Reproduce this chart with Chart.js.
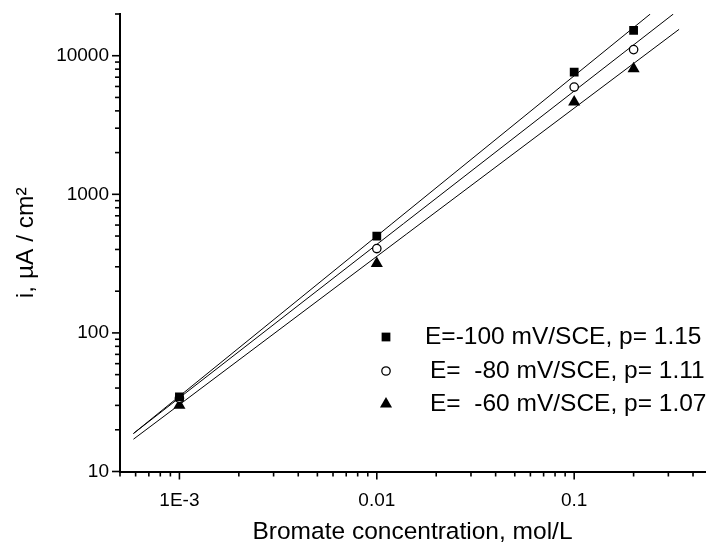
<!DOCTYPE html>
<html><head><meta charset="utf-8">
<script src="https://cdn.jsdelivr.net/npm/chart.js@4/dist/chart.umd.min.js"></script>
<style>html,body{margin:0;padding:0;background:#fff;overflow:hidden;width:707px;height:544px}</style>
</head><body>
<canvas id="c" width="712" height="544"></canvas>
<script>
// ---- data ----
const concentrations = [0.001, 0.01, 0.1, 0.2];
const currentE100 = [34.6, 499, 7620, 15240];
const currentE80 = [33.7, 406, 5940, 11070];
const currentE60 = [30.1, 317, 4630, 8070];
const fitXE100 = [0.000585, 0.243];
const fitYE100 = [18.8, 20000];
const fitXE80 = [0.000585, 0.318];
const fitYE80 = [18.8, 20000];
const fitXE60 = [0.000585, 0.34];
const fitYE60 = [17.1, 15500];
const seriesLabels = ['E=-100 mV/SCE, p= 1.15', 'E=  -80 mV/SCE, p= 1.11', 'E=  -60 mV/SCE, p= 1.07'];
const xTickValues = [0.001, 0.01, 0.1];
const xTickLabels = ['1E-3', '0.01', '0.1'];
const yTickValues = [10, 100, 1000, 10000];
const yTickLabels = ['10', '100', '1000', '10000'];
const xTitle = 'Bromate concentration, mol/L';
const yTitle = 'i, \u00B5A / cm\u00B2';

// ---- helpers ----
const pts = (xs, ys) => xs.map((x, i) => ({x: x, y: ys[i]}));
const labelFor = (vals, labels) => v => {
  const i = vals.findIndex(t => Math.abs(Math.log10(v / t)) < 1e-6);
  return i >= 0 ? labels[i] : '';
};
const isPow10 = v => Math.abs(Math.log10(v) - Math.round(Math.log10(v))) < 1e-6;
const isIntSig = v => {
  const e = Math.floor(Math.log10(v) + 1e-9);
  const s = v / Math.pow(10, e);
  return Math.abs(s - Math.round(s)) < 1e-6;
};

Chart.defaults.font.family = "'Liberation Sans', Arial, sans-serif";
Chart.defaults.color = '#000';

const styles = [
  {pointStyle: 'rect', radius: 6.2, bg: '#000', border: '#000', bw: 0},
  {pointStyle: 'circle', radius: 4.2, bg: '#fff', border: '#000', bw: 1.3},
  {pointStyle: 'triangle', radius: 7, bg: '#000', border: '#000', bw: 0}
];

const tickPlugin = {
  id: 'logTicks',
  afterDraw(chart) {
    const ctx = chart.ctx;
    const xs = chart.scales.x, ys = chart.scales.y;
    ctx.save();
    ctx.strokeStyle = '#000';
    ctx.lineWidth = 1.6;
    xs.ticks.forEach(t => {
      if (!isIntSig(t.value)) return;
      const px = xs.getPixelForValue(t.value);
      const len = isPow10(t.value) ? 8 : 5;
      ctx.beginPath(); ctx.moveTo(px, xs.top); ctx.lineTo(px, xs.top + len); ctx.stroke();
    });
    ys.ticks.forEach(t => {
      if (!isIntSig(t.value)) return;
      const py = ys.getPixelForValue(t.value);
      const len = isPow10(t.value) ? 8 : 5;
      ctx.beginPath(); ctx.moveTo(ys.right, py); ctx.lineTo(ys.right - len, py); ctx.stroke();
    });
    ctx.restore();
  }
};

const legendPlugin = {
  id: 'innerLegend',
  afterDraw(chart) {
    const ctx = chart.ctx;
    const rows = [{mx: 386, y: 337, tx: 425}, {mx: 386, y: 371, tx: 430}, {mx: 386, y: 404, tx: 430}];
    ctx.save();
    rows.forEach((r, i) => {
      const s = styles[i];
      ctx.fillStyle = s.bg; ctx.strokeStyle = s.border; ctx.lineWidth = s.bw || 0.001;
      Chart.helpers.drawPoint(ctx, {pointStyle: s.pointStyle, radius: s.radius, borderWidth: s.bw, rotation: 0}, r.mx, r.y);
      ctx.fillStyle = '#000';
      ctx.font = "24.5px 'Liberation Sans', Arial, sans-serif";
      ctx.textBaseline = 'middle';
      ctx.textAlign = 'left';
      ctx.fillText(seriesLabels[i], r.tx, r.y);
    });
    ctx.restore();
  }
};

const pointSets = [currentE100, currentE80, currentE60].map((ys, i) => ({
  label: seriesLabels[i],
  data: pts(concentrations, ys),
  showLine: false,
  pointStyle: styles[i].pointStyle,
  pointRadius: styles[i].radius,
  pointBackgroundColor: styles[i].bg,
  pointBorderColor: styles[i].border,
  pointBorderWidth: styles[i].bw,
  order: 0
}));
const lineSets = [[fitXE100, fitYE100], [fitXE80, fitYE80], [fitXE60, fitYE60]].map(([xs, ys], i) => ({
  label: 'fit ' + i,
  data: pts(xs, ys),
  showLine: true,
  borderColor: '#000',
  borderWidth: 1,
  pointRadius: 0,
  fill: false,
  order: 1
}));

new Chart(document.getElementById('c'), {
  type: 'scatter',
  data: {datasets: pointSets.concat(lineSets)},
  options: {
    responsive: false,
    animation: false,
    devicePixelRatio: 1,
    layout: {padding: {top: 14, right: 0, left: 0, bottom: 0}},
    plugins: {legend: {display: false}, tooltip: {enabled: false}},
    scales: {
      x: {
        type: 'logarithmic',
        bounds: 'data',
        min: 0.0005, max: 0.46,
        border: {display: true, color: '#000', width: 2},
        grid: {display: true, drawOnChartArea: false, drawTicks: true, tickLength: 8, tickColor: 'rgba(0,0,0,0)'},
        ticks: {autoSkip: false, maxRotation: 0, padding: 10, font: {size: 19}, callback: labelFor(xTickValues, xTickLabels)},
        title: {display: true, text: xTitle, font: {size: 24.5, lineHeight: 1}, padding: {top: 0, bottom: 0}},
        afterFit: s => { s.height = 72.5; s.paddingLeft = 0; s.paddingRight = 0; }
      },
      y: {
        type: 'logarithmic',
        bounds: 'data',
        min: 10, max: 20000,
        border: {display: true, color: '#000', width: 2},
        grid: {display: true, drawOnChartArea: false, drawTicks: true, tickLength: 8, tickColor: 'rgba(0,0,0,0)'},
        ticks: {autoSkip: false, padding: 3, font: {size: 19}, callback: labelFor(yTickValues, yTickLabels)},
        title: {display: true, text: yTitle, font: {size: 24.5, lineHeight: 1}, padding: {top: 14, bottom: 0}},
        afterFit: s => { s.width = 120; s.paddingTop = 0; s.paddingBottom = 0; }
      }
    }
  },
  plugins: [tickPlugin, legendPlugin]
});
</script>
</body></html>
